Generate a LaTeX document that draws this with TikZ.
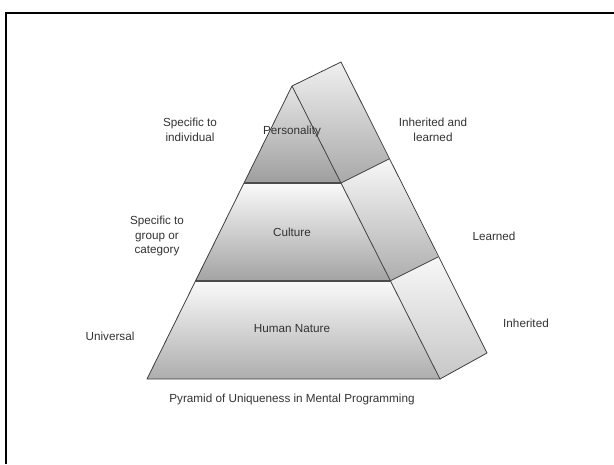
\documentclass[tikz,border=0pt]{standalone}
\usepackage{fontspec}
\setmainfont{Liberation Sans}
\begin{document}
\begin{tikzpicture}[x=1pt,y=-1pt,
  lbl/.style={align=center,font=\fontsize{11.7}{14.5}\selectfont,text=black!80,inner sep=0pt},
  edge/.style={draw=black!75,line width=0.8pt,line join=round},
  divider/.style={draw=black!70,line width=1.6pt},
  face/.style={edge}]
\useasboundingbox (0,0) rectangle (614,464);
\fill[white] (0,0) rectangle (614,464);
\draw[line width=1.3pt,black] (6,464) -- (6,13) -- (614,13);
% front corners
\coordinate (A) at (292,86);
\coordinate (PL) at (244,183);
\coordinate (PR) at (341,183);
\coordinate (CL) at (195,281);
\coordinate (CR) at (390,281);
\coordinate (BL) at (147,379);
\coordinate (BR) at (440,379);
% back corners
\coordinate (A2) at (341,62);
\coordinate (P2) at (389,159);
\coordinate (C2) at (438,257);
\coordinate (B2) at (487,353);
% front layers
\shade[top color=black!10,bottom color=black!38] (A) -- (PR) -- (PL) -- cycle;
\shade[top color=black!2,bottom color=black!36] (PL) -- (PR) -- (CR) -- (CL) -- cycle;
\shade[top color=black!2,bottom color=black!32] (CL) -- (CR) -- (BR) -- (BL) -- cycle;
% side layers
\shade[top color=black!6,bottom color=black!34] (A) -- (A2) -- (P2) -- (PR) -- cycle;
\shade[top color=black!3,bottom color=black!32] (PR) -- (P2) -- (C2) -- (CR) -- cycle;
\shade[top color=black!3,bottom color=black!22] (CR) -- (C2) -- (B2) -- (BR) -- cycle;
% outlines
\draw[edge] (A) -- (BL) -- (BR) -- cycle;
\draw[edge] (A) -- (A2) -- (B2) -- (BR);
\draw[edge] (PR) -- (P2);
\draw[edge] (CR) -- (C2);
\draw[divider] (PL) -- (PR);
\draw[divider] (CL) -- (CR);
% labels
\node[lbl] (pers) at (292,131) {Personality};
\node[lbl] (cult) at (292,232) {Culture};
\node[lbl] (hum) at (292,329) {Human Nature};
\node[lbl] (indiv) at (190,130) {Specific to\\individual};
\node[lbl] (group) at (157,236) {Specific to\\group or\\category};
\node[lbl] (univ) at (110,336) {Universal};
\node[lbl] (inhl) at (433,130) {Inherited and\\learned};
\node[lbl] (learn) at (494,236) {Learned};
\node[lbl] (inh) at (526,323) {Inherited};
\node[lbl] (cap) at (292,399) {Pyramid of Uniqueness in Mental Programming};
\end{tikzpicture}
\end{document}
